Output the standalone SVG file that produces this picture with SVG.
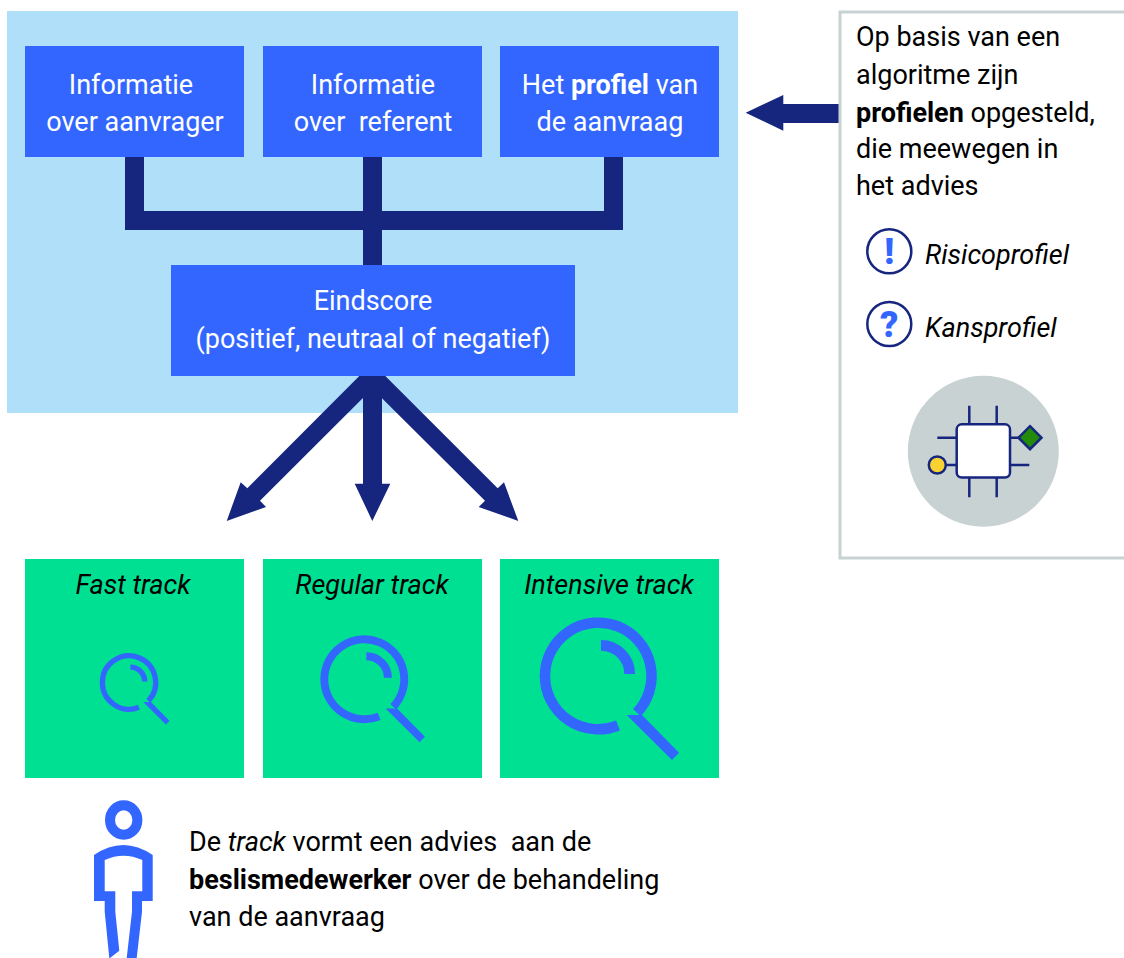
<svg xmlns="http://www.w3.org/2000/svg" width="1124" height="958" viewBox="0 0 1124 958">
<style>
text{font-family:Roboto,"Liberation Sans",sans-serif;font-size:27px;fill:#000}
.w{fill:#fff;text-anchor:middle}
.m{text-anchor:middle}
.i{font-style:italic}
.b{font-weight:700}
.blue{fill:#3366ff}
.green{fill:#00e092}
.dark{fill:#16267f}
.ic{fill:#fff;stroke:#16267f;stroke-width:2.5}
.pin{stroke:#16267f;stroke-width:2.5;fill:none}
.g{font-weight:900;font-size:36px;fill:#3366ff;text-anchor:middle}
</style>
<defs>
<g id="lens">
<path d="M18.8 50.5A53.3 53.3 0 1 1 37.7 37.7" fill="none" stroke="#3366ff" stroke-width="10.5"/>
<path d="M1.8-29.7A28.7 28.7 0 0 1 30.5-1" fill="none" stroke="#3366ff" stroke-width="10.7"/>
<polygon points="27.5,40 42.8,40 79.8,77.7 72.8,85" fill="#3366ff"/>
</g>
</defs>
<rect id="panel" x="7" y="11" width="731" height="402" fill="#b0dffa"/>
<g id="connectors" class="dark">
<path d="M125 157H144V211H363V157H382V211H604V157H623V230H382V265H363V230H125Z"/>
<polygon points="359.3,376 385.3,376 382,398.3 382,483.7 390.3,483.7 372.3,521 354.7,483.7 363,483.7 363,398.3"/>
<polygon points="359.3,376 375,376 362.7,398.3 260,500.7 266,507 226.7,521 240.7,482.3 247.3,488.3"/>
<polygon points="385.3,376 370,376 382,398.3 485,500.7 478.7,507 518.3,521 504,482.3 497.7,488.3"/>
<polygon points="840,104 783.3,104 783.3,95 745.7,112.7 783.3,130.7 783.3,123 840,123"/>
</g>
<g id="n1"><rect class="blue" x="25" y="46" width="219" height="111"/><text class="w" x="131" y="94">Informatie</text><text class="w" x="135" y="131">over aanvrager</text></g>
<g id="n2"><rect class="blue" x="263" y="46" width="219" height="111"/><text class="w" x="373" y="94">Informatie</text><text class="w" x="373" y="131" xml:space="preserve">over  referent</text></g>
<g id="n3"><rect class="blue" x="500" y="46" width="219" height="111"/><text class="w" x="610" y="94">Het <tspan class="b">profiel</tspan> van</text><text class="w" x="610" y="131">de aanvraag</text></g>
<g id="n4"><rect class="blue" x="171" y="265" width="404" height="111"/><text class="w" x="373" y="310">Eindscore</text><text class="w" x="373" y="348">(positief, neutraal of negatief)</text></g>
<g id="t1"><rect class="green" x="25" y="559" width="219" height="219"/><text class="m i" x="133" y="594">Fast track</text><use href="#lens" transform="translate(129.5 682) scale(.5)"/></g>
<g id="t2"><rect class="green" x="263" y="559" width="219" height="219"/><text class="m i" x="372" y="594">Regular track</text><use href="#lens" transform="translate(365 678.5) scale(.75)"/></g>
<g id="t3"><rect class="green" x="500" y="559" width="219" height="219"/><text class="m i" x="609" y="594">Intensive track</text><use href="#lens" transform="translate(599.2 675)"/></g>
<g id="info">
<path d="M1126 12H840V558H1126" fill="#fff" stroke="#c8d2d3" stroke-width="3"/>
<text x="856" y="46">Op basis van een</text>
<text x="856" y="84">algoritme zijn</text>
<text x="856" y="122"><tspan class="b">profielen</tspan> opgesteld,</text>
<text x="856" y="158">die meewegen in</text>
<text x="856" y="195">het advies</text>
</g>
<g id="risico"><circle class="ic" cx="889.3" cy="251.3" r="22"/><text class="g" x="889.3" y="264">!</text><text class="i" x="925" y="264">Risicoprofiel</text></g>
<g id="kans"><circle class="ic" cx="889.3" cy="324" r="22"/><text class="g" x="889.3" y="337">?</text><text class="i" x="925" y="337">Kansprofiel</text></g>
<g id="chip">
<circle cx="983.3" cy="451.3" r="75.5" fill="#c8d2d3"/>
<path class="pin" d="M969.3 405.7V424M996.7 405.7V424M969.3 477.7V497.3M996.7 477.7V497.3M937.3 437.7H957M1010 437.7H1020M937.3 465H957M1010 465H1029.3"/>
<rect class="ic" x="956.7" y="424.3" width="53.3" height="53.3" rx="5"/>
<polygon points="1030,426.2 1041.5,437.7 1030,449.2 1018.5,437.7" fill="#228b0a" stroke="#16267f" stroke-width="2.5"/>
<circle cx="937.3" cy="465" r="8.5" fill="#f8d231" stroke="#16267f" stroke-width="2.5"/>
</g>
<g id="person">
<ellipse cx="123.7" cy="820" rx="13.7" ry="14.8" fill="none" stroke="#3366ff" stroke-width="10"/>
<path class="blue" d="M94 855Q123.3 835 152.7 855V901H142V911.7L136.7 958H126.7L132 911.7V891.3H142.3V860Q123.3 851.4 104.7 860V891.3H115.3V911.7L119.3 950.7L110 958H109.3L104.7 911.7V901H94Z"/>
</g>
<g id="advies">
<text x="189" y="851" xml:space="preserve">De <tspan class="i">track</tspan> vormt een advies  aan de</text>
<text x="189" y="889"><tspan class="b">beslismedewerker</tspan> over de behandeling</text>
<text x="189" y="926">van de aanvraag</text>
</g>
</svg>
